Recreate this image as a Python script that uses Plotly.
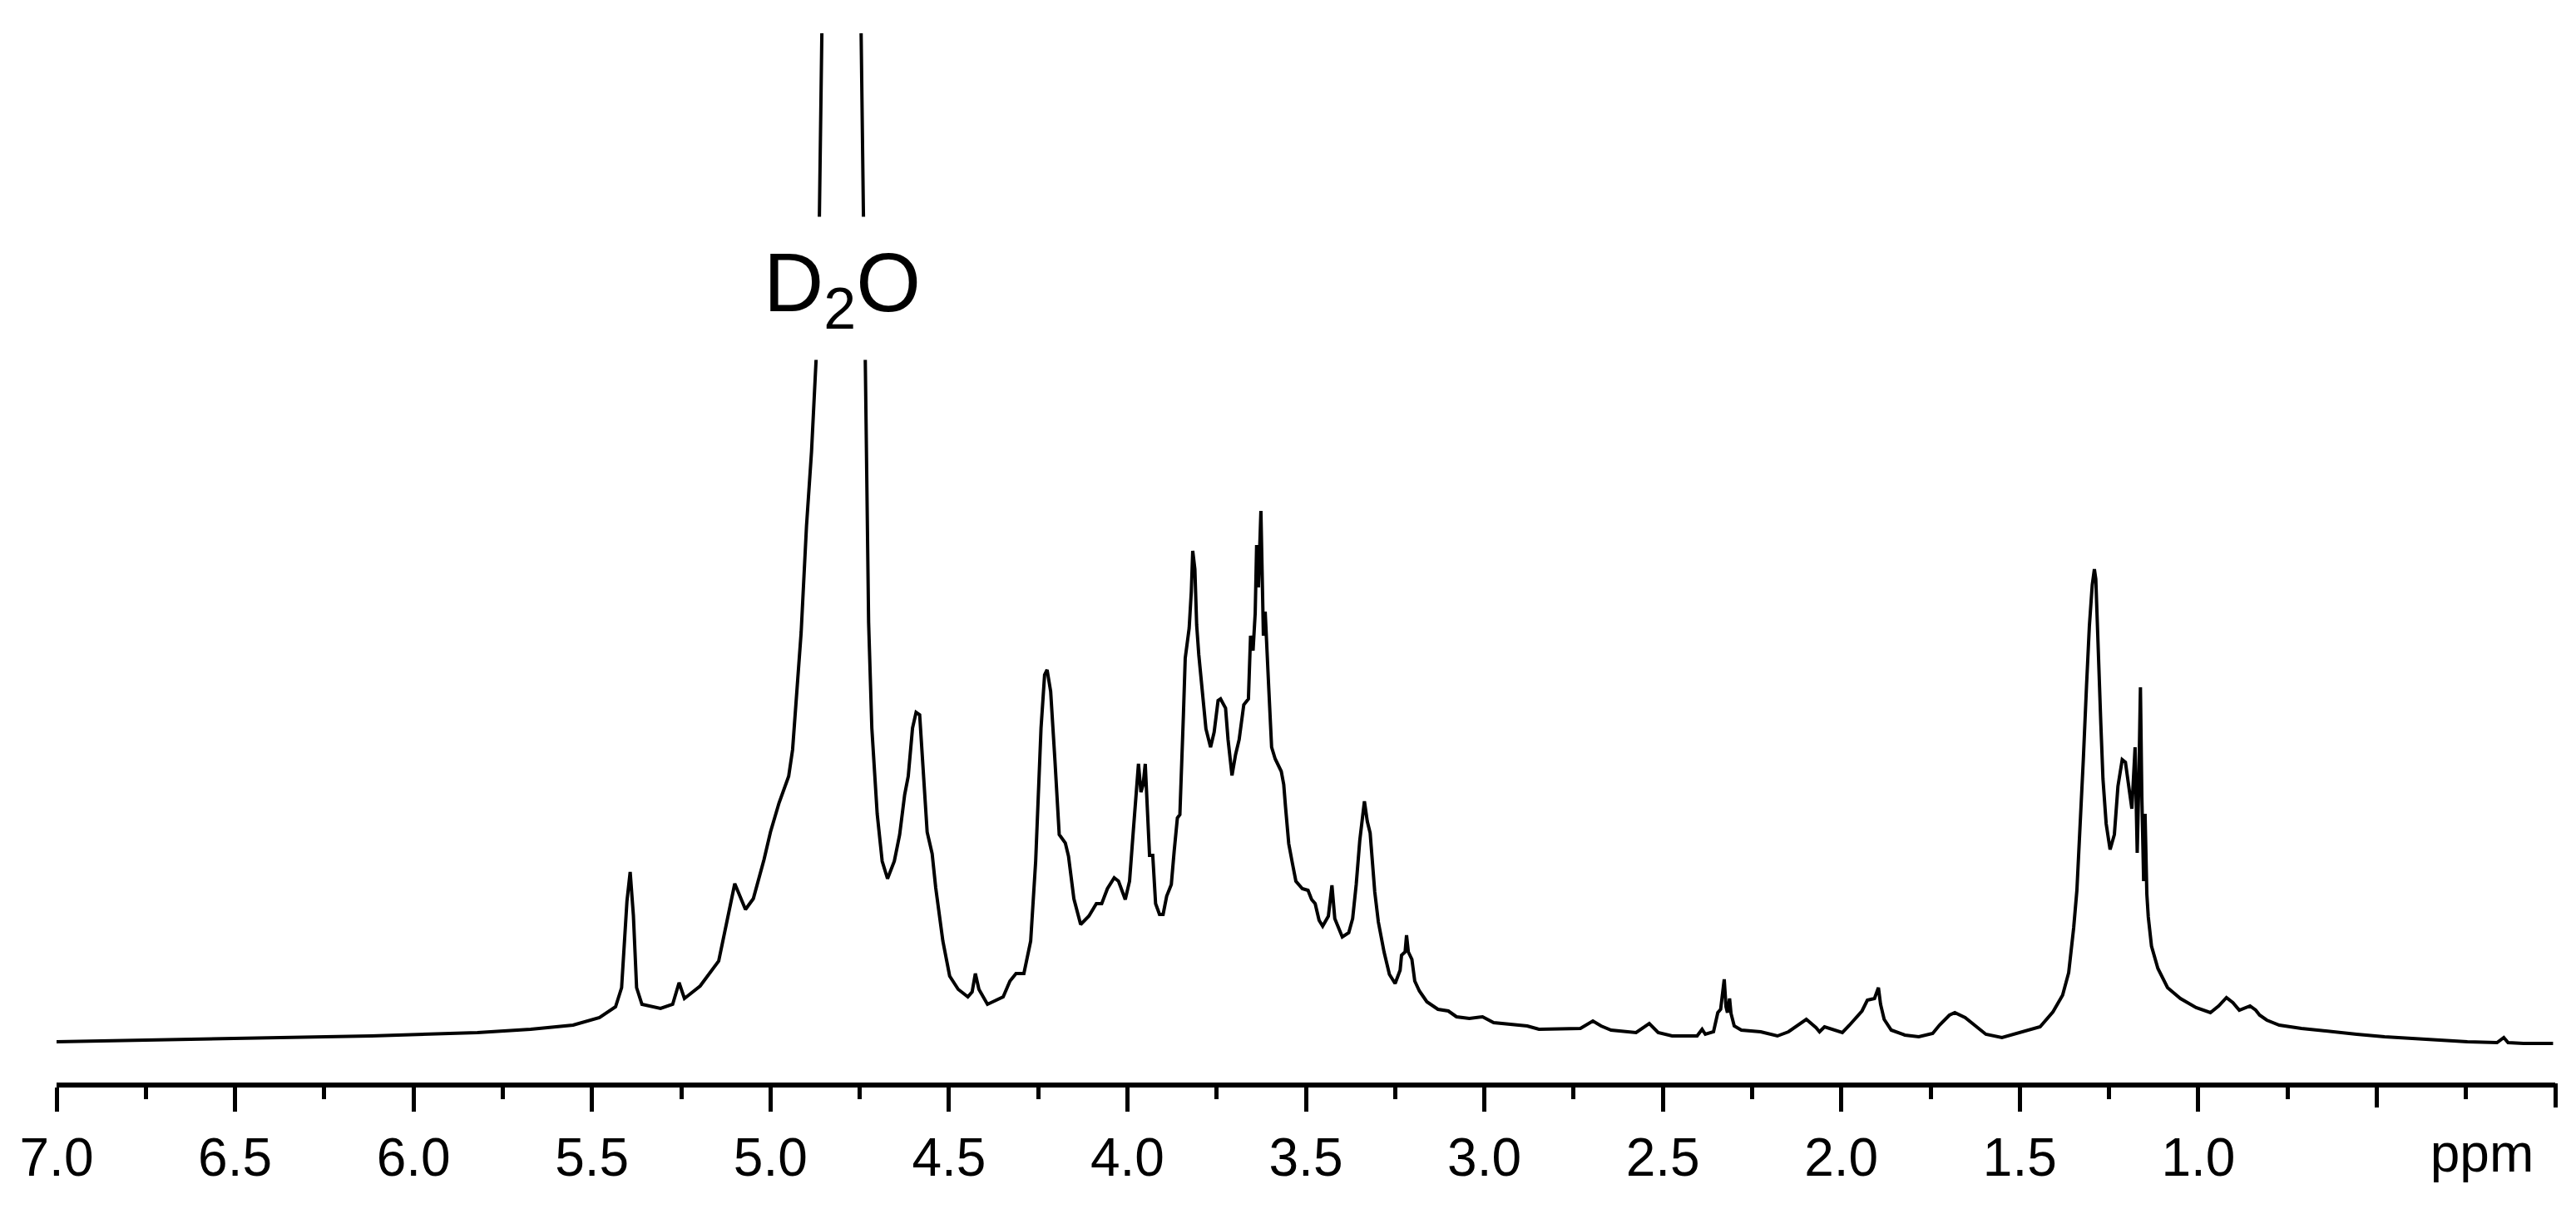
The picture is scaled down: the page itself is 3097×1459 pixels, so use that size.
import plotly.graph_objects as go

# 1H NMR spectrum in D2O
# chemical shift (ppm) and intensity (arbitrary units)

# baseline and anomeric region, 7.0 -> 5.0 ppm
ppm_anomeric = [7.000, 6.564, 6.118, 5.821, 5.672, 5.553, 5.479, 5.434, 5.417, 5.402,
                5.393, 5.384, 5.375, 5.360, 5.308, 5.274, 5.256, 5.241, 5.197, 5.145,
                5.100, 5.070, 5.048, 5.018]
int_anomeric = [4.9, 5.2, 5.6, 6.0, 6.4, 6.9, 7.8, 9.1, 11.4, 21.8,
                25.3, 20.1, 11.4, 9.4, 8.9, 9.4, 12.0, 10.1, 11.6, 14.6,
                23.9, 20.8, 22.1, 26.8]

# residual water (D2O) peak and its shoulders, 5.0 -> 4.13 ppm
ppm_water = [5.000, 4.976, 4.949, 4.938, 4.928, 4.914, 4.899, 4.885, 4.872, 4.863,
             4.856, 4.800, 4.746, 4.739, 4.733, 4.730, 4.725, 4.716, 4.701, 4.687,
             4.672, 4.653, 4.638, 4.624, 4.614, 4.602, 4.592, 4.582, 4.571, 4.561,
             4.547, 4.537, 4.517, 4.498, 4.474, 4.447, 4.435, 4.426, 4.416, 4.392,
             4.348, 4.329, 4.312, 4.290, 4.271, 4.257, 4.242, 4.232, 4.225, 4.215,
             4.203, 4.191, 4.174, 4.165, 4.150, 4.131]
int_water = [30.1, 33.6, 36.8, 40.0, 45.7, 54.1, 66.9, 75.8, 87.0, 103.9,
             126.1, 420.0, 126.1, 103.9, 87.0, 71.3, 55.3, 42.6, 32.3, 26.6,
             24.5, 26.6, 29.8, 34.6, 36.8, 42.6, 44.5, 44.2, 37.4, 30.1,
             27.5, 23.4, 17.0, 12.8, 11.2, 10.3, 10.9, 13.1, 11.2, 9.4,
             10.3, 12.2, 13.1, 13.1, 17.0, 26.6, 42.6, 49.0, 49.6, 47.0,
             38.7, 29.8, 28.8, 27.2, 22.1, 19.0]

# ring proton region, 4.11 -> 2.88 ppm
ppm_ring = [4.108, 4.087, 4.072, 4.056, 4.037, 4.025, 4.006, 3.994, 3.983, 3.975,
            3.969, 3.962, 3.956, 3.950, 3.944, 3.938, 3.929, 3.921, 3.910, 3.900,
            3.890, 3.877, 3.869, 3.860, 3.853, 3.848, 3.843, 3.838, 3.827, 3.821,
            3.817, 3.811, 3.806, 3.800, 3.791, 3.780, 3.767, 3.757, 3.746, 3.739,
            3.725, 3.718, 3.707, 3.697, 3.687, 3.674, 3.661, 3.655, 3.648, 3.642,
            3.638, 3.633, 3.626, 3.622, 3.619, 3.614, 3.609, 3.604, 3.596, 3.586,
            3.569, 3.562, 3.557, 3.548, 3.538, 3.528, 3.510, 3.494, 3.484, 3.474,
            3.463, 3.453, 3.437, 3.427, 3.419, 3.411, 3.398, 3.380, 3.369, 3.359,
            3.349, 3.336, 3.328, 3.320, 3.307, 3.297, 3.281, 3.266, 3.250, 3.236,
            3.232, 3.222, 3.218, 3.213, 3.203, 3.195, 3.182, 3.161, 3.130, 3.101,
            3.078, 3.042, 3.005, 2.974, 2.880]
int_ring = [20.0, 21.5, 21.5, 23.3, 24.6, 24.2, 22.0, 24.2, 30.5, 35.8,
            38.3, 34.9, 35.8, 38.3, 32.7, 27.3, 27.3, 21.5, 20.2, 20.2,
            22.4, 23.8, 27.8, 31.8, 32.2, 37.2, 44.3, 51.0, 54.6, 59.0,
            63.9, 61.7, 55.0, 51.4, 47.4, 42.5, 40.3, 42.1, 45.9, 46.1,
            45.0, 41.2, 36.9, 39.4, 41.2, 45.4, 46.1, 53.7, 51.9, 56.4,
            64.6, 59.5, 68.7, 60.4, 53.7, 56.6, 52.8, 47.4, 40.3, 38.9,
            37.4, 35.8, 33.1, 28.7, 26.4, 24.2, 23.3, 23.1, 22.0, 21.5,
            19.5, 18.8, 20.0, 23.7, 19.7, 18.8, 17.5, 18.0, 19.7, 23.8,
            29.1, 33.8, 31.4, 30.0, 22.9, 19.3, 15.7, 13.0, 11.9, 13.5,
            15.3, 15.7, 17.7, 15.7, 14.8, 12.2, 11.0, 9.7, 8.8, 8.6,
            7.9, 7.7, 7.9, 7.2, 6.8]

# acetyl / aliphatic region, 2.85 -> 1.68 ppm
ppm_aliph = [2.847, 2.731, 2.696, 2.673, 2.645, 2.575, 2.538, 2.513, 2.474, 2.404,
             2.390, 2.381, 2.358, 2.346, 2.338, 2.332, 2.328, 2.323, 2.319, 2.313,
             2.309, 2.300, 2.280, 2.226, 2.179, 2.148, 2.117, 2.098, 2.071, 2.061,
             2.047, 2.024, 1.997, 1.977, 1.958, 1.942, 1.927, 1.907, 1.896, 1.890,
             1.880, 1.860, 1.822, 1.783, 1.744, 1.725, 1.697, 1.682]
int_aliph = [6.4, 6.5, 7.4, 6.8, 6.3, 6.0, 7.1, 6.0, 5.6, 5.6,
             6.4, 5.8, 6.1, 8.4, 8.8, 10.8, 12.4, 9.1, 8.4, 10.1,
             8.3, 6.8, 6.3, 6.1, 5.6, 6.1, 7.1, 7.6, 6.6, 6.1,
             6.7, 6.4, 6.0, 6.9, 7.8, 8.6, 9.9, 10.1, 11.4, 9.4,
             7.6, 6.3, 5.7, 5.5, 5.9, 6.9, 8.1, 8.4]

# methyl region and high-field baseline, 1.65 -> 0.0 ppm
ppm_methyl = [1.653, 1.621, 1.595, 1.550, 1.488, 1.443, 1.407, 1.380, 1.363, 1.349,
              1.340, 1.331, 1.322, 1.313, 1.305, 1.297, 1.291, 1.287, 1.281, 1.273,
              1.267, 1.258, 1.247, 1.235, 1.225, 1.213, 1.204, 1.193, 1.186, 1.177,
              1.171, 1.167, 1.162, 1.158, 1.153, 1.149, 1.144, 1.140, 1.131, 1.113,
              1.086, 1.050, 1.006, 0.966, 0.943, 0.921, 0.903, 0.885, 0.855, 0.839,
              0.828, 0.808, 0.773, 0.711, 0.633, 0.556, 0.478, 0.400, 0.323, 0.246,
              0.163, 0.144, 0.132, 0.089, 0.006]
int_methyl = [7.8, 6.7, 5.8, 5.4, 6.1, 6.7, 8.5, 10.5, 13.2, 18.6,
              23.1, 30.2, 38.8, 47.7, 54.9, 59.8, 61.7, 60.5, 52.2, 43.2,
              36.5, 31.1, 28.0, 29.8, 35.6, 38.8, 38.5, 34.7, 32.9, 40.3,
              27.6, 35.2, 47.5, 34.3, 24.2, 32.3, 22.6, 19.9, 16.4, 13.7,
              11.4, 10.1, 9.0, 8.4, 9.2, 10.2, 9.6, 8.7, 9.2, 8.7,
              8.1, 7.5, 6.9, 6.5, 6.1, 5.8, 5.5, 5.3, 5.1, 4.9,
              4.8, 5.4, 4.8, 4.7, 4.7]

# labelled major ticks, unlabelled major ticks, unit label
tick_vals = [7.0, 6.5, 6.0, 5.5, 5.0, 4.5, 4.0, 3.5, 3.0, 2.5, 2.0, 1.5, 1.0]
tick_text = ["7.0", "6.5", "6.0", "5.5", "5.0", "4.5", "4.0", "3.5", "3.0",
             "2.5", "2.0", "1.5", "1.0"]
bare_ticks = [0.5, 0.0]
unit_pos = 0.205
solvent_pos = 4.80
solvent_label_height = 95.5

ppm = ppm_anomeric + ppm_water + ppm_ring + ppm_aliph + ppm_methyl
intensity = int_anomeric + int_water + int_ring + int_aliph + int_methyl

font_family = "Liberation Sans, Arial, sans-serif"
tick_font = dict(size=64, family=font_family, color="black")

fig = go.Figure()
fig.add_trace(go.Scatter(x=ppm, y=intensity, mode="lines",
                         line=dict(color="black", width=4),
                         showlegend=False, hoverinfo="skip"))
# empty traces so the helper x axes get drawn
fig.add_trace(go.Scatter(x=[], y=[], xaxis="x2", showlegend=False))
fig.add_trace(go.Scatter(x=[], y=[], xaxis="x3", showlegend=False))

fig.add_annotation(x=solvent_pos, y=solvent_label_height, xref="x", yref="y",
                   text="D<sub>2</sub>O", showarrow=False,
                   font=dict(family=font_family, size=100, color="black"),
                   bgcolor="white", borderpad=22)

# page body adds an 8 px offset, margins compensate for it
fig.update_layout(
    width=3081, height=1443,
    margin=dict(l=60, r=17, t=32, b=150),
    paper_bgcolor="white", plot_bgcolor="white",
    font=dict(family=font_family, color="black"),
    xaxis=dict(range=[7, 0], showgrid=False, zeroline=False,
               showline=True, linecolor="black", linewidth=6,
               ticks="outside", ticklen=29, tickwidth=5, tickcolor="black",
               tickmode="array", tickvals=tick_vals, ticktext=tick_text,
               tickfont=tick_font,
               minor=dict(tickmode="linear", tick0=0, dtick=0.25, ticks="outside",
                          ticklen=14, tickwidth=5, tickcolor="black")),
    xaxis2=dict(range=[7, 0], overlaying="x", side="bottom", anchor="y",
                showgrid=False, zeroline=False, showline=False,
                ticks="outside", ticklen=29, tickwidth=5, tickcolor="rgba(0,0,0,0)",
                tickmode="array", tickvals=[unit_pos], ticktext=["ppm"],
                tickfont=tick_font),
    xaxis3=dict(range=[7, 0], overlaying="x", side="bottom", anchor="y",
                showgrid=False, zeroline=False, showline=False,
                ticks="outside", ticklen=29, tickwidth=5, tickcolor="black",
                tickmode="array", tickvals=bare_ticks, showticklabels=False),
    yaxis=dict(range=[0, 126.1], visible=False, fixedrange=True),
)

fig.write_html("out.html")
